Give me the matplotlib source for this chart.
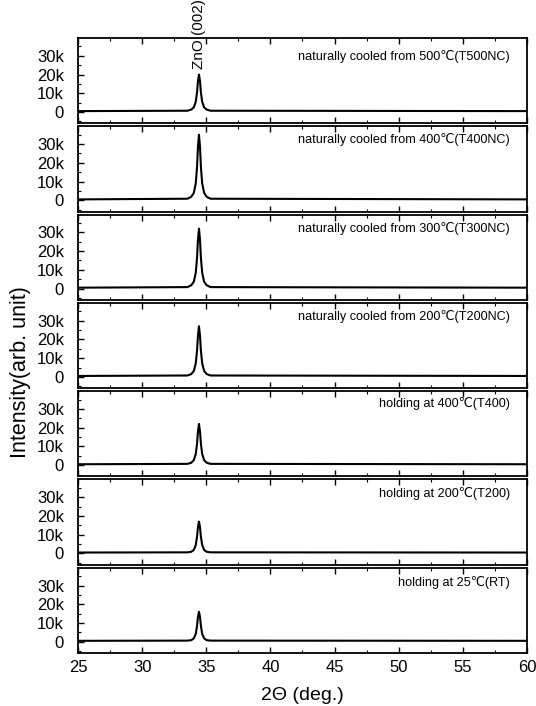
import matplotlib
matplotlib.use("Agg")
import matplotlib.pyplot as plt
from matplotlib.ticker import MultipleLocator, FuncFormatter

plt.rcParams['font.family'] = ['Liberation Sans', 'DejaVu Sans']

# ---- data ----
two_theta = [25, 33.53, 33.83, 34.03, 34.18, 34.28, 34.35, 34.43,
             34.51, 34.58, 34.68, 34.83, 35.03, 35.33, 60]

labels = [
    "naturally cooled from 500\u2103(T500NC)",
    "naturally cooled from 400\u2103(T400NC)",
    "naturally cooled from 300\u2103(T300NC)",
    "naturally cooled from 200\u2103(T200NC)",
    "holding at 400\u2103(T400)",
    "holding at 200\u2103(T200)",
    "holding at 25\u2103(RT)",
]

i_T500NC = [500, 700, 1300, 2500, 5500, 10500, 16500, 20000, 16500, 10500, 5500, 2500, 1300, 700, 500]
i_T400NC = [500, 850, 1900, 4000, 9000, 18000, 28500, 35000, 28500, 18000, 9000, 4000, 1900, 850, 500]
i_T300NC = [500, 800, 1800, 3700, 8500, 16500, 26000, 32000, 26000, 16500, 8500, 3700, 1800, 800, 500]
i_T200NC = [500, 750, 1500, 3200, 7200, 14000, 22000, 27000, 22000, 14000, 7200, 3200, 1500, 750, 500]
i_T400 = [500, 700, 1300, 2700, 6000, 11500, 18000, 22000, 18000, 11500, 6000, 2700, 1300, 700, 500]
i_T200 = [500, 600, 900, 1900, 4500, 9000, 14000, 17000, 14000, 9000, 4500, 1900, 900, 600, 500]
i_RT = [500, 600, 850, 1800, 4200, 8500, 13200, 16000, 13200, 8500, 4200, 1800, 850, 600, 500]

series = [i_T500NC, i_T400NC, i_T300NC, i_T200NC, i_T400, i_T200, i_RT]

y_ticks = [0, 10000, 20000, 30000]
x_ticks = [25, 30, 35, 40, 45, 50, 55, 60]
peak_label = "ZnO (002)"
peak_pos = 34.43

# ---- layout ----
fig = plt.figure(figsize=(5.36, 7.06), dpi=100)
left, right = 78 / 536, 527 / 536
top_px, bot_px = 38, 653
n = len(series)
gap_px = 3
ph_px = (bot_px - top_px - gap_px * (n - 1)) / n
label_y = [0.78, 0.85, 0.84, 0.84, 0.85, 0.84, 0.83]

axes = []
for k in range(n):
    t = top_px + k * (ph_px + gap_px)
    b = t + ph_px
    ax = fig.add_axes([left, 1 - b / 706, right - left, ph_px / 706])
    axes.append(ax)
    ax.plot(two_theta, series[k], color='black', lw=1.5)
    ax.set_xlim(25, 60)
    ax.set_ylim(-6000, 39500)
    ax.set_yticks(y_ticks)
    ax.yaxis.set_minor_locator(MultipleLocator(5000))
    ax.yaxis.set_major_formatter(FuncFormatter(lambda v, p: "0" if v == 0 else f"{int(v/1000)}k"))
    ax.set_xticks(x_ticks)
    ax.xaxis.set_minor_locator(MultipleLocator(2.5))
    ax.tick_params(axis='both', which='both', direction='in', top=True, right=False,
                   labelsize=12)
    ax.tick_params(axis='y', which='major', pad=10)
    ax.tick_params(axis='x', which='major', pad=5)
    ax.tick_params(which='major', length=4, width=1)
    ax.tick_params(which='minor', length=2, width=0.8)
    for s in ax.spines.values():
        s.set_linewidth(1.3)
    if k < n - 1:
        ax.tick_params(labelbottom=False)
    ax.text(0.962, label_y[k], labels[k], transform=ax.transAxes, ha='right', va='center',
            fontsize=9.1)

axes[0].text(peak_pos, 23000, peak_label, rotation=90, ha='center', va='bottom',
             fontsize=11, clip_on=False)

axes[-1].set_xlabel("2\u0398 (deg.)", fontsize=14, labelpad=9)
fig.text(0.038, 1 - 372 / 706, "Intensity(arb. unit)", rotation=90,
         ha='center', va='center', fontsize=15.5)

fig.savefig("out.png", dpi=100)
